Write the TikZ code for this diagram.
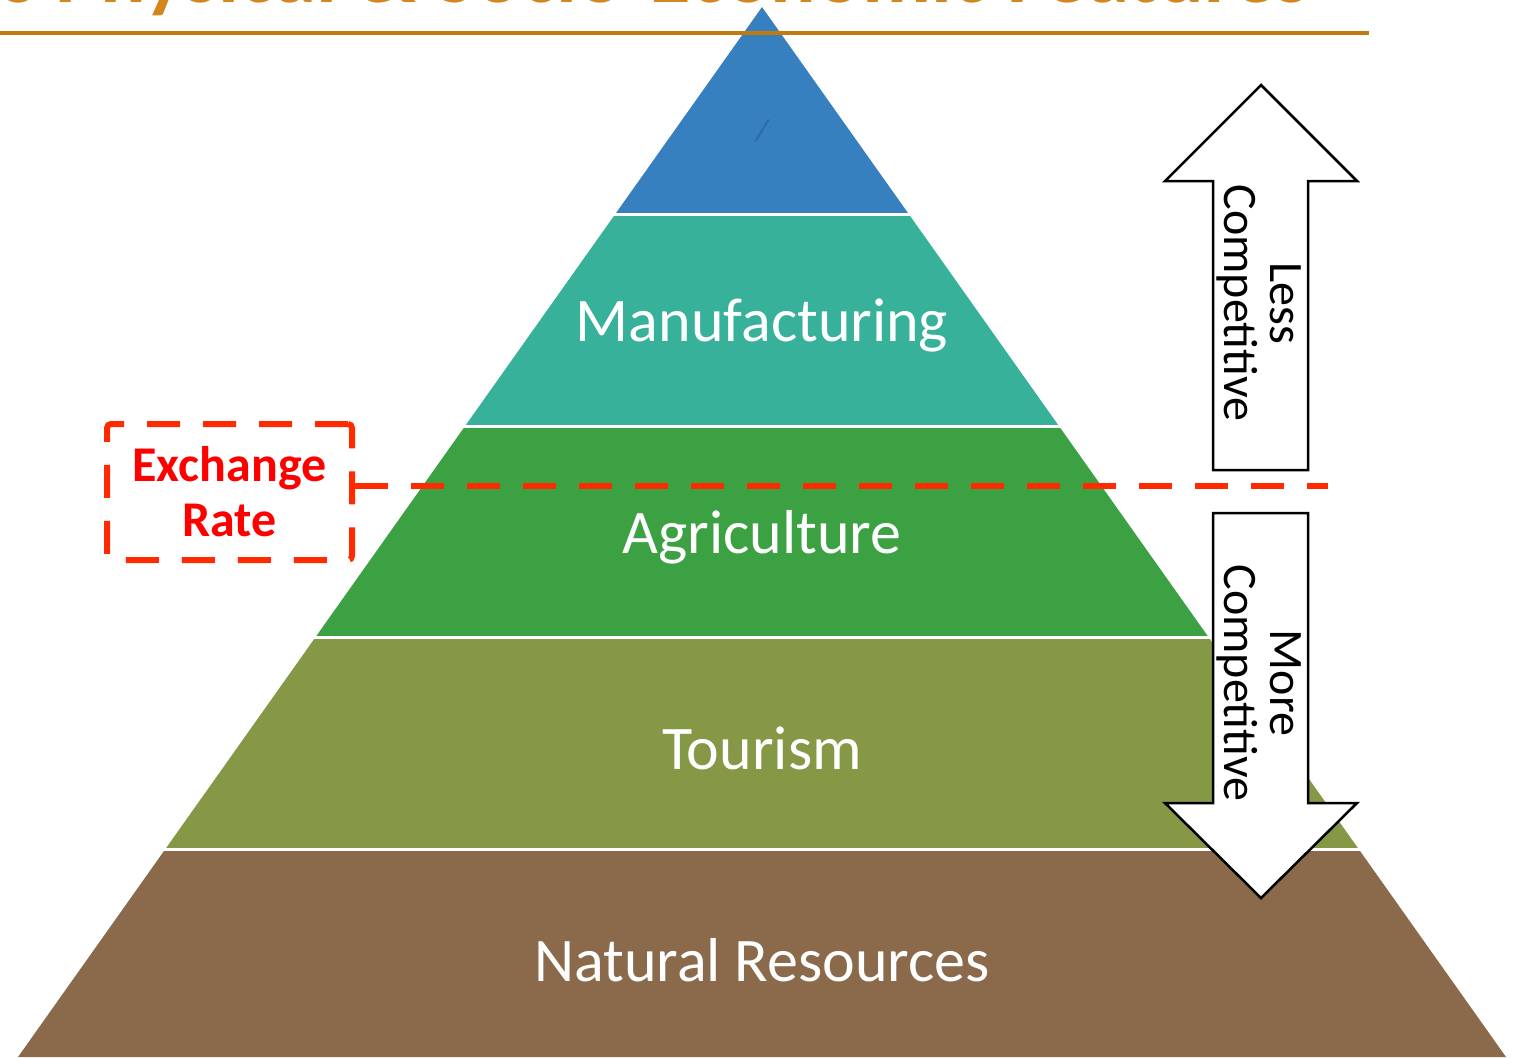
\documentclass[tikz,border=0pt]{standalone}
\usepackage{fontspec}
\setmainfont{Carlito}
\definecolor{cblue}{HTML}{3780BF}
\definecolor{cblued}{HTML}{2C6BB0}
\definecolor{cteal}{HTML}{37B19A}
\definecolor{cgreen}{HTML}{3BA142}
\definecolor{colive}{HTML}{849845}
\definecolor{cbrown}{HTML}{8A6A4A}
\definecolor{cred}{HTML}{FF2A00}
\definecolor{ctext}{HTML}{FF0000}
\definecolor{ctitle}{HTML}{D4861E}
\definecolor{cline}{HTML}{C07A10}
\tikzset{
  layerlabel/.style={text=white, font=\fontsize{31pt}{36pt}\selectfont, inner sep=0pt},
  sep/.style={draw=white, line width=1.5pt},
  bigarrow/.style={draw=black, fill=white, line width=1.25pt, line join=miter},
  arrowtext/.style={rotate=-90, align=center, font=\fontsize{24pt}{23pt}\selectfont, inner sep=0pt},
  redbox/.style={draw=cred, line width=3pt, dash pattern=on 16.5pt off 11.5pt, rounded corners=2pt,
     minimum width=122.5pt, minimum height=68pt, align=center, text=ctext,
     font=\bfseries\fontsize{25pt}{27.5pt}\selectfont, inner sep=0pt},
  redline/.style={draw=cred, line width=3pt, dash pattern=on 16.5pt off 11.5pt},
  titletext/.style={text=ctitle, font=\bfseries\fontsize{42.5pt}{50pt}\selectfont, inner sep=0pt},
  titleline/.style={draw=cline, line width=2pt}
}
\begin{document}
\begin{tikzpicture}[x=0.5pt,y=-0.5pt]
\useasboundingbox (0,0) rectangle (1519,1057);
\begin{scope}
  \clip (0,0) rectangle (1519,1057);
  % pyramid layers
  \fill[cblue]  (762,7) -- (908.7,214) -- (615.3,214) -- cycle;
  \fill[cteal]  (615.3,214) -- (908.7,214) -- (1058.9,426) -- (465.1,426) -- cycle;
  \fill[cgreen] (465.1,426) -- (1058.9,426) -- (1208.4,637) -- (315.6,637) -- cycle;
  \fill[colive] (315.6,637) -- (1208.4,637) -- (1358.6,849) -- (165.4,849) -- cycle;
  \fill[cbrown] (165.4,849) -- (1358.6,849) -- (1506,1057) -- (18,1057) -- cycle;
  \draw[sep] (612,214) -- (912,214);
  \draw[sep] (462,426) -- (1062,426);
  \draw[sep] (312,637) -- (1212,637);
  \draw[sep] (162,849) -- (1362,849);
  \node[titletext, anchor=base east] (title) at (1310,2) {s Physical \& Socio-Economic Features};
\end{scope}
\draw[titleline] (0,33) -- (1369,33);

\node[text=cblued, font=\bfseries\itshape\fontsize{15pt}{16pt}\selectfont, inner sep=0pt] (slash) at (762,131) {/};
\node[layerlabel] (manu) at (762,325) {Manufacturing};
\node[layerlabel] (agri) at (762,537) {Agriculture};
\node[layerlabel] (tour) at (762,748) {Tourism};
\node[layerlabel] (natr) at (762,960) {Natural Resources};

% arrows
\draw[bigarrow] (1261,85) -- (1357,181) -- (1308,181) -- (1308,470) -- (1213,470) -- (1213,181) -- (1165,181) -- cycle;
\draw[bigarrow] (1213,513) -- (1308,513) -- (1308,803) -- (1357,803) -- (1261,898) -- (1165,803) -- (1213,803) -- cycle;
\node[arrowtext] (less) at (1259,303) {Less\\Competitive};
\node[arrowtext] (more) at (1259,683) {More\\Competitive};

% exchange rate
\node[redbox] (xr) at (229.5,492) {Exchange\\Rate};
\coordinate (xend) at (1328,486);
\draw[redline] (xr.east |- xend) -- (xend);
\end{tikzpicture}
\end{document}
